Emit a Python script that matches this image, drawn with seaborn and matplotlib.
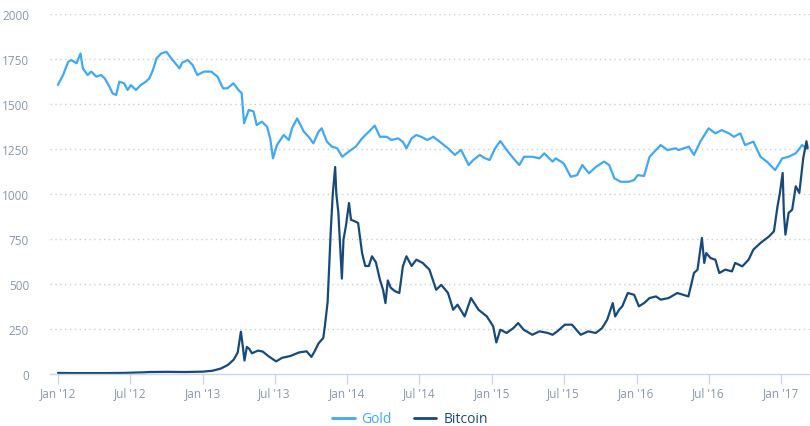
import matplotlib
matplotlib.use("Agg")
import matplotlib.pyplot as plt
import matplotlib.dates as mdates
import seaborn as sns
import pandas as pd

# ---- data ----
gold_dates = [
    "2012-01-01", "2012-01-14", "2012-01-27", "2012-02-04", "2012-02-17", "2012-02-27",
    "2012-03-04", "2012-03-16", "2012-03-25", "2012-04-07", "2012-04-19", "2012-04-28",
    "2012-05-10", "2012-05-18", "2012-05-27", "2012-06-04", "2012-06-16", "2012-06-25",
    "2012-07-03", "2012-07-16", "2012-07-28", "2012-08-10", "2012-08-19", "2012-08-28",
    "2012-09-06", "2012-09-18", "2012-10-01", "2012-10-13", "2012-11-03", "2012-11-10",
    "2012-11-24", "2012-12-06", "2012-12-18", "2013-01-04", "2013-01-22", "2013-02-07",
    "2013-02-21", "2013-03-04", "2013-03-19", "2013-04-01", "2013-04-09", "2013-04-15",
    "2013-04-27", "2013-05-09", "2013-05-17", "2013-05-30", "2013-06-12", "2013-06-20",
    "2013-06-27", "2013-07-07", "2013-07-24", "2013-08-06", "2013-08-14", "2013-08-27",
    "2013-09-13", "2013-09-25", "2013-10-07", "2013-10-20", "2013-10-28", "2013-11-10",
    "2013-11-23", "2013-12-06", "2013-12-19", "2014-01-04", "2014-01-22", "2014-02-07",
    "2014-02-24", "2014-03-11", "2014-03-24", "2014-04-10", "2014-04-22", "2014-05-09",
    "2014-05-21", "2014-05-30", "2014-06-12", "2014-06-24", "2014-07-06", "2014-07-22",
    "2014-08-06", "2014-08-22", "2014-09-12", "2014-09-29", "2014-10-15", "2014-11-03",
    "2014-11-15", "2014-12-01", "2014-12-13", "2014-12-26", "2015-01-09", "2015-01-22",
    "2015-02-07", "2015-02-24", "2015-03-11", "2015-03-23", "2015-04-13", "2015-05-01",
    "2015-05-13", "2015-06-03", "2015-06-11", "2015-07-01", "2015-07-19", "2015-08-04",
    "2015-08-17", "2015-09-03", "2015-09-20", "2015-10-11", "2015-10-24", "2015-11-06",
    "2015-11-22", "2015-12-13", "2015-12-26", "2016-01-04", "2016-01-20", "2016-02-03",
    "2016-02-15", "2016-03-02", "2016-03-19", "2016-04-09", "2016-04-16", "2016-05-12",
    "2016-05-25", "2016-06-10", "2016-07-01", "2016-07-18", "2016-08-03", "2016-08-21",
    "2016-09-03", "2016-09-19", "2016-10-01", "2016-10-22", "2016-11-09", "2016-11-25",
    "2016-12-16", "2017-01-03", "2017-01-19", "2017-02-06", "2017-02-22", "2017-03-07",
]
gold_values = [
    1606, 1661, 1735, 1744, 1726, 1781,
    1698, 1661, 1680, 1652, 1661, 1643,
    1596, 1559, 1550, 1624, 1615, 1578,
    1605, 1578, 1605, 1624, 1643, 1689,
    1754, 1781, 1790, 1754, 1698, 1730,
    1744, 1717, 1661, 1680, 1680, 1652,
    1587, 1587, 1615, 1578, 1560, 1393,
    1467, 1458, 1383, 1402, 1374, 1309,
    1198, 1272, 1328, 1300, 1365, 1420,
    1346, 1318, 1281, 1346, 1365, 1291,
    1263, 1254, 1207, 1235, 1263, 1309,
    1346, 1380, 1318, 1318, 1300, 1309,
    1290, 1254, 1309, 1328, 1318, 1300,
    1318, 1290, 1254, 1217, 1245, 1161,
    1189, 1217, 1200, 1189, 1254, 1294,
    1245, 1198, 1161, 1207, 1207, 1198,
    1226, 1180, 1198, 1170, 1096, 1105,
    1161, 1115, 1150, 1180, 1161, 1087,
    1068, 1068, 1078, 1105, 1100, 1207,
    1235, 1272, 1244, 1254, 1244, 1263,
    1217, 1291, 1365, 1337, 1355, 1337,
    1318, 1337, 1272, 1291, 1207, 1180,
    1133, 1198, 1207, 1226, 1272, 1250,
]

btc_dates = [
    "2012-01-01", "2012-02-01", "2012-03-15", "2012-05-01", "2012-06-15", "2012-08-01",
    "2012-08-20", "2012-10-01", "2012-11-15", "2013-01-01", "2013-01-25", "2013-02-15",
    "2013-03-05", "2013-03-20", "2013-03-30", "2013-04-07", "2013-04-12", "2013-04-16",
    "2013-04-22", "2013-04-28", "2013-05-05", "2013-05-20", "2013-06-01", "2013-06-15",
    "2013-07-05", "2013-07-20", "2013-08-10", "2013-09-01", "2013-09-20", "2013-10-02",
    "2013-10-10", "2013-10-20", "2013-11-01", "2013-11-05", "2013-11-12", "2013-11-16",
    "2013-11-20", "2013-11-25", "2013-12-01", "2013-12-04", "2013-12-09", "2013-12-18",
    "2013-12-22", "2013-12-28", "2014-01-05", "2014-01-10", "2014-01-18", "2014-01-28",
    "2014-02-07", "2014-02-15", "2014-02-24", "2014-03-04", "2014-03-14", "2014-03-24",
    "2014-04-01", "2014-04-07", "2014-04-13", "2014-04-20", "2014-05-01", "2014-05-12",
    "2014-05-21", "2014-05-30", "2014-06-12", "2014-06-24", "2014-07-10", "2014-07-27",
    "2014-08-13", "2014-08-26", "2014-09-12", "2014-09-25", "2014-10-06", "2014-10-24",
    "2014-11-09", "2014-11-28", "2014-12-19", "2015-01-04", "2015-01-12", "2015-01-22",
    "2015-02-07", "2015-02-24", "2015-03-08", "2015-03-22", "2015-04-13", "2015-05-01",
    "2015-05-22", "2015-06-03", "2015-06-15", "2015-07-04", "2015-07-22", "2015-08-13",
    "2015-09-01", "2015-09-20", "2015-10-06", "2015-10-19", "2015-11-02", "2015-11-08",
    "2015-11-18", "2015-11-26", "2015-12-10", "2015-12-26", "2016-01-07", "2016-01-20",
    "2016-02-03", "2016-02-19", "2016-03-02", "2016-03-22", "2016-04-13", "2016-05-11",
    "2016-05-25", "2016-06-03", "2016-06-14", "2016-06-20", "2016-06-25", "2016-07-06",
    "2016-07-18", "2016-07-28", "2016-08-12", "2016-08-29", "2016-09-06", "2016-09-24",
    "2016-10-10", "2016-10-22", "2016-11-09", "2016-12-01", "2016-12-13", "2016-12-22",
    "2016-12-28", "2017-01-04", "2017-01-07", "2017-01-11", "2017-01-19", "2017-01-28",
    "2017-02-06", "2017-02-15", "2017-02-25", "2017-03-05", "2017-03-08",
]
btc_values = [
    6, 5, 5, 5, 6, 9,
    11, 12, 11, 13, 18, 30,
    50, 80, 120, 235, 150, 75,
    150, 140, 115, 130, 125, 100,
    70, 90, 100, 120, 126, 95,
    125, 170, 200, 265, 400, 600,
    800, 1000, 1150, 1000, 900, 530,
    746, 820, 950, 857, 850, 839,
    672, 600, 600, 654, 620, 524,
    468, 394, 520, 480, 460, 450,
    598, 654, 600, 635, 617, 580,
    468, 495, 450, 357, 385, 320,
    422, 357, 320, 265, 175, 246,
    228, 255, 283, 246, 218, 237,
    228, 218, 237, 274, 274, 218,
    237, 228, 255, 302, 394, 320,
    357, 376, 450, 440, 376, 394,
    422, 431, 413, 422, 450, 431,
    561, 580, 756, 617, 672, 644,
    635, 561, 580, 570, 617, 598,
    635, 691, 728, 765, 793, 932,
    1006, 1117, 895, 774, 895, 913,
    1043, 1006, 1200, 1293, 1256,
]

series_names = ["Gold", "Bitcoin"]
series_colors = ["#3fa9f5", "#174a7c"]
y_ticks = [0, 250, 500, 750, 1000, 1250, 1500, 1750, 2000]

# ---- build long table ----
df = pd.concat([
    pd.DataFrame({"date": pd.to_datetime(gold_dates), "price": gold_values, "asset": "Gold"}),
    pd.DataFrame({"date": pd.to_datetime(btc_dates), "price": btc_values, "asset": "Bitcoin"}),
], ignore_index=True)

sns.set_theme(style="white")
plt.rcParams["font.family"] = ["Open Sans", "DejaVu Sans"]

fig = plt.figure(figsize=(8.1, 4.27), dpi=100)
ax = fig.add_axes([50 / 810, 1 - 375 / 427, 760 / 810, (375 - 15) / 427])

sns.lineplot(data=df, x="date", y="price", hue="asset", hue_order=series_names,
             palette=dict(zip(series_names, series_colors)), estimator=None,
             linewidth=1.6, ax=ax, legend=False)

ax.set_ylim(0, 2000)
ax.set_xlim(pd.Timestamp("2011-12-12"), pd.Timestamp("2017-03-14"))
ax.set_yticks(y_ticks)
ax.set_xlabel("")
ax.set_ylabel("")

label_color = "#8797ab"
axis_color = "#ccd6eb"
ax.xaxis.set_major_locator(mdates.MonthLocator(bymonth=[1, 7]))
ax.xaxis.set_major_formatter(mdates.DateFormatter("%b '%y"))
ax.tick_params(axis="x", colors=axis_color, labelcolor=label_color, labelsize=8.5,
               length=7, width=1, direction="out", pad=2, bottom=True)
ax.tick_params(axis="y", colors=label_color, labelsize=8.5, length=0, pad=15)
for lab in ax.get_yticklabels():
    lab.set_horizontalalignment("right")

# grid: dotted, only above zero
for v in y_ticks[1:]:
    ax.axhline(v, color="#c5d0dc", linestyle=(0, (1, 2.5)), linewidth=1.0, zorder=0)
for s in ["top", "right", "left"]:
    ax.spines[s].set_visible(False)
ax.spines["bottom"].set_color(axis_color)
ax.spines["bottom"].set_linewidth(1.0)

handles = [plt.Line2D([], [], color=c, linewidth=2) for c in series_colors]
leg = fig.legend(handles, series_names, loc="center", ncol=2,
                 bbox_to_anchor=(410 / 810, 1 - 420 / 427), frameon=False,
                 fontsize=10, handlelength=1.6, handletextpad=0.5, columnspacing=1.6,
                 labelcolor=series_colors)

fig.savefig("out.png", dpi=100)
